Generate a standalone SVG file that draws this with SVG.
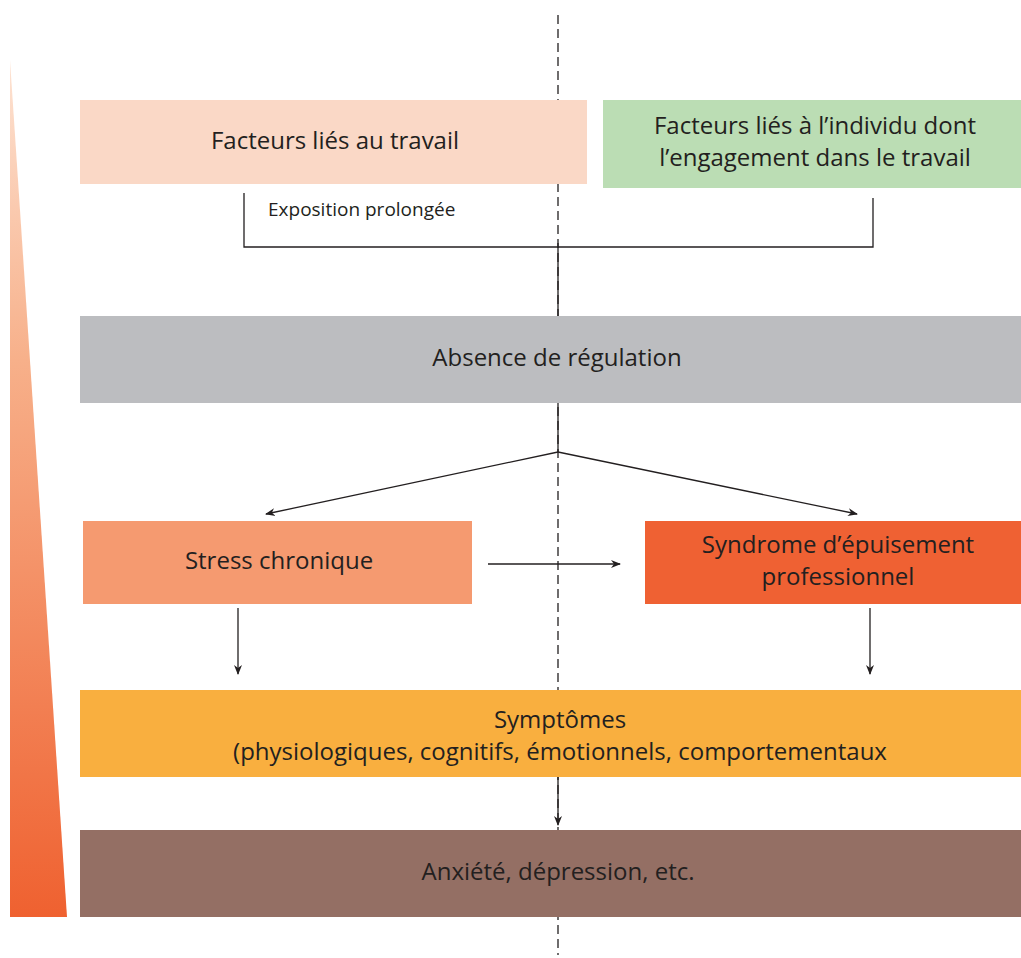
<svg xmlns="http://www.w3.org/2000/svg" width="1021" height="958" viewBox="0 0 1021 958">
<defs>
<linearGradient id="tri" x1="0" y1="0" x2="0" y2="1">
<stop offset="0" stop-color="#FDE3D3"/>
<stop offset="0.35" stop-color="#F7B08A"/>
<stop offset="1" stop-color="#EF6130"/>
</linearGradient>
<marker id="ah" markerWidth="10" markerHeight="10" refX="9" refY="5" orient="auto" markerUnits="userSpaceOnUse">
<path d="M0,1 L10,5 L0,9 L3,5 Z" fill="#231F20"/>
</marker>
<style>
.t{font-family:"Open Sans","Liberation Sans",sans-serif;font-size:24px;fill:#231F20;text-anchor:middle}
.s{font-family:"Open Sans","Liberation Sans",sans-serif;font-size:19px;fill:#231F20}
.ln{stroke:#231F20;stroke-width:1.3;fill:none}
.ar{stroke:#231F20;stroke-width:1.3;fill:none;marker-end:url(#ah)}
</style>
</defs>
<rect width="1021" height="958" fill="#FFFFFF"/>
<polygon points="10,60 67,917 10,917" fill="url(#tri)"/>
<line x1="558" y1="15" x2="558" y2="955" stroke="#231F20" stroke-width="1.3" stroke-dasharray="9,5"/>
<g id="facteurs-travail">
<rect x="80" y="100" width="507" height="84" fill="#FAD8C6"/>
<text class="t" x="335" y="149">Facteurs liés au travail</text>
</g>
<g id="facteurs-individu">
<rect x="603" y="100" width="418" height="88" fill="#BBDDB4"/>
<text class="t" x="815" y="134">Facteurs liés à l’individu dont</text>
<text class="t" x="815" y="166">l’engagement dans le travail</text>
</g>
<g id="exposition">
<text class="s" x="268" y="216">Exposition prolongée</text>
</g>
<g id="absence">
<rect x="80" y="316" width="941" height="87" fill="#BCBDC0"/>
<text class="t" x="557" y="366">Absence de régulation</text>
</g>
<g id="stress">
<rect x="83" y="521" width="389" height="83" fill="#F59A70"/>
<text class="t" x="279" y="569">Stress chronique</text>
</g>
<g id="syndrome">
<rect x="645" y="521" width="376" height="83" fill="#EF6133"/>
<text class="t" x="838" y="553">Syndrome d’épuisement</text>
<text class="t" x="838" y="585">professionnel</text>
</g>
<g id="symptomes">
<rect x="80" y="690" width="941" height="87" fill="#F9AF3F"/>
<text class="t" x="560" y="728">Symptômes</text>
<text class="t" x="560" y="760">(physiologiques, cognitifs, émotionnels, comportementaux</text>
</g>
<g id="anxiete">
<rect x="80" y="830" width="941" height="87" fill="#946F64"/>
<text class="t" x="558" y="880">Anxiété, dépression, etc.</text>
</g>
<g id="connectors">
<polyline class="ln" points="244,193 244,247 873,247 873,198"/>
<line class="ln" x1="558" y1="243" x2="558" y2="316"/>
<line class="ln" x1="558" y1="403" x2="558" y2="452"/>
<line class="ar" x1="558" y1="452" x2="266" y2="514"/>
<line class="ar" x1="558" y1="452" x2="857" y2="514"/>
<line class="ar" x1="488" y1="564" x2="620" y2="564"/>
<line class="ar" x1="238" y1="608" x2="238" y2="674"/>
<line class="ar" x1="870" y1="608" x2="870" y2="674"/>
<line class="ar" x1="558" y1="777" x2="558" y2="825"/>
</g>
</svg>
